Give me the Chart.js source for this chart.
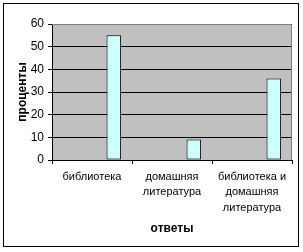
<!DOCTYPE html>
<html>
<head>
<meta charset="utf-8">
<script src="https://cdn.jsdelivr.net/npm/chart.js@4"></script>
<style>
  html, body { margin: 0; padding: 0; background: #fff; }
  canvas { display: block; }
</style>
</head>
<body>
<canvas id="chart" width="303" height="252"></canvas>
<script>
// категории и значения (в процентах)
const categories = [
    ['библиотека'],
    ['домашняя', 'литература'],
    ['библиотека и', 'домашняя', 'литература']
];
// пустые ряды из исходной таблицы Excel занимают место в группе
const emptySeries = [null, null, null];
const answers = [55, 9, 36];
const yTicks = [0, 10, 20, 30, 40, 50, 60];

const FONT = '"Liberation Sans Narrow", "Arial Narrow", "Liberation Sans", Arial, sans-serif';

// фон области построения, рамка диаграммы и серая рамка сверху/справа
const frame = {
    id: 'frame',
    beforeDraw(chart) {
        const { ctx, chartArea: a } = chart;
        ctx.save();
        ctx.fillStyle = '#c0c0c0';
        ctx.fillRect(a.left, a.top, a.right - a.left, a.bottom - a.top);
        ctx.strokeStyle = '#000';
        ctx.lineWidth = 1;
        ctx.strokeRect(3.5, 3.5, 295, 243);
        ctx.restore();
    },
    afterDraw(chart) {
        const { ctx, chartArea: a } = chart;
        ctx.save();
        ctx.strokeStyle = '#808080';
        ctx.lineWidth = 1;
        ctx.beginPath();
        ctx.moveTo(a.left, a.top + 0.5);
        ctx.lineTo(a.right - 0.5, a.top + 0.5);
        ctx.lineTo(a.right - 0.5, a.bottom);
        ctx.stroke();
        ctx.restore();
    }
};

const barStyle = {
    backgroundColor: '#ccffff',
    borderColor: '#000',
    borderWidth: 1,
    borderSkipped: false,
    barPercentage: 1,
    categoryPercentage: 4 / 5.5
};

new Chart(document.getElementById('chart'), {
    type: 'bar',
    data: {
        labels: categories,
        datasets: [
            { ...barStyle, data: emptySeries },
            { ...barStyle, data: emptySeries },
            { ...barStyle, data: emptySeries },
            { ...barStyle, label: 'ответы', data: answers }
        ]
    },
    options: {
        responsive: false,
        animation: false,
        devicePixelRatio: 1,
        layout: { padding: { left: 4, right: 11, top: 24, bottom: 4 } },
        plugins: { legend: { display: false }, tooltip: { enabled: false } },
        scales: {
            x: {
                offset: true,
                grid: { offset: true, drawOnChartArea: false, drawTicks: true, tickLength: 4, color: '#000' },
                border: { color: '#000', width: 1 },
                ticks: { color: '#000', padding: 5, maxRotation: 0, autoSkip: false,
                         font: { family: FONT, size: 11, lineHeight: 1.4 } },
                title: { display: true, text: 'ответы', color: '#000',
                         font: { family: FONT, size: 12, weight: 'bold', lineHeight: 1.2 },
                         padding: { top: 0, bottom: 12 } },
                afterFit(scale) { scale.height = 88; }
            },
            y: {
                min: yTicks[0],
                max: yTicks[yTicks.length - 1],
                afterBuildTicks(scale) { scale.ticks = yTicks.map(v => ({ value: v })); },
                grid: { color: '#000', tickLength: 4, drawTicks: true },
                border: { color: '#000', width: 1 },
                ticks: { color: '#000', padding: 4, autoSkip: false,
                         font: { family: FONT, size: 12 } },
                title: { display: true, text: 'проценты', color: '#000',
                         font: { family: FONT, size: 12, weight: 'bold', lineHeight: 1.2 },
                         padding: { top: 11, bottom: 0 } },
                afterFit(scale) { scale.width = 48; }
            }
        }
    },
    plugins: [frame]
});
</script>
</body>
</html>
